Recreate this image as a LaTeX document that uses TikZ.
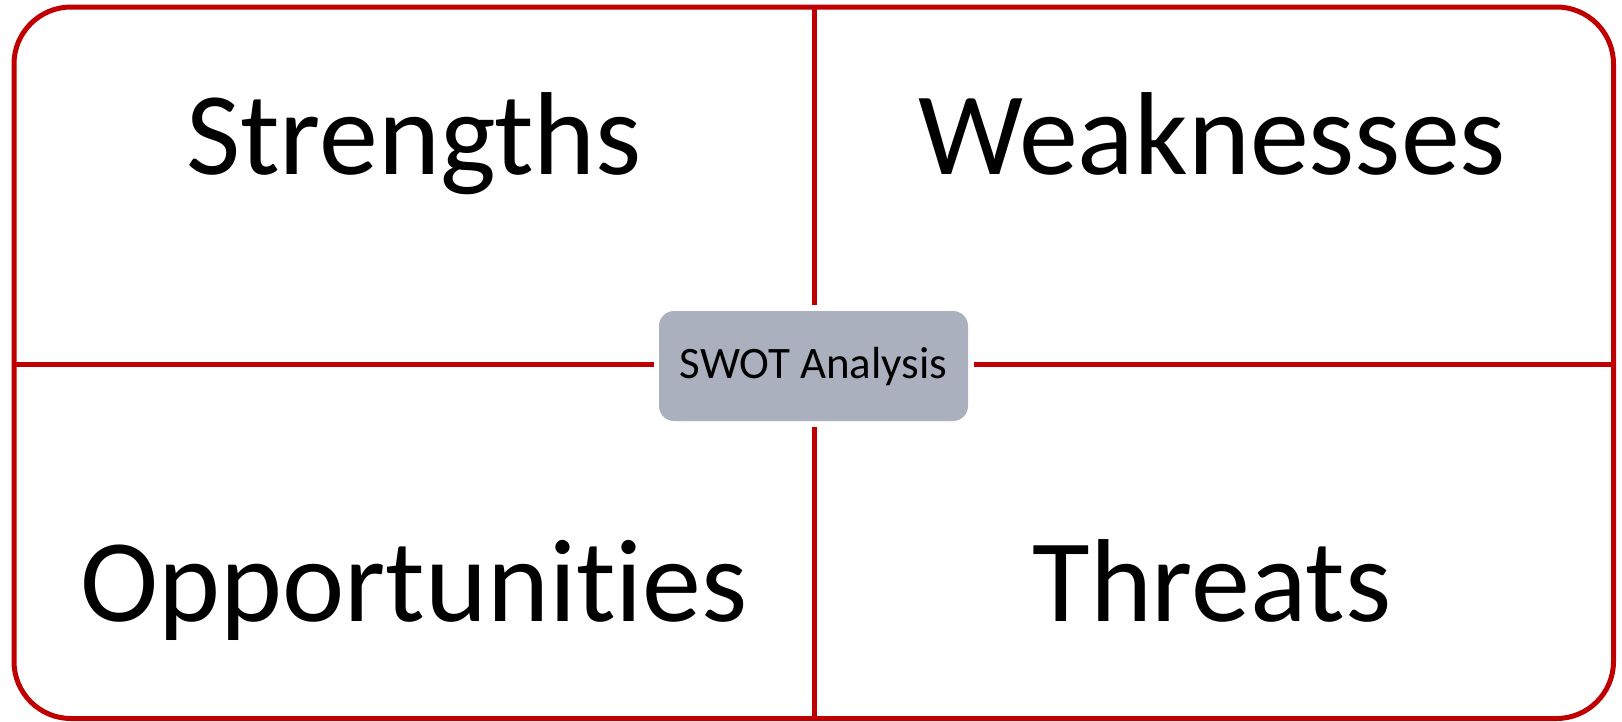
\documentclass[tikz,border=0pt]{standalone}
\usepackage{fontspec}
\setmainfont[Ligatures=NoCommon]{Carlito}
\definecolor{swotred}{HTML}{C00000}
\definecolor{swotgray}{HTML}{ABB0BF}
\begin{document}
\begin{tikzpicture}[x=1pt,y=-1pt,
  frame/.style={draw=swotred, line width=5pt},
  divider/.style={draw=swotred, line width=5pt},
  quadrant/.style={anchor=base, inner sep=0pt, font=\fontsize{118}{130}\selectfont},
  centerbox/.style={fill=swotgray, rounded corners=15pt, minimum width=309pt, minimum height=110pt, inner sep=0pt, font=\fontsize{45}{52}\selectfont}]
\useasboundingbox (0,0) rectangle (1622,721);
% outer frame
\draw[frame, rounded corners=57pt] (14,7) rectangle (1613.5,718.5);
% dividers
\coordinate (top) at (814,7);
\coordinate (bottom) at (814,718.5);
\coordinate (left) at (14,364.5);
\coordinate (right) at (1613.5,364.5);
\coordinate (vtop) at (814,305);
\coordinate (vbot) at (814,427);
\coordinate (hleft) at (654,364.5);
\coordinate (hright) at (974,364.5);
\draw[divider] (top) -- (vtop);
\draw[divider] (vbot) -- (bottom);
\draw[divider] (left) -- (hleft);
\draw[divider] (hright) -- (right);
% centre label
\node[centerbox] (swot) at (813.5,366) {SWOT Analysis};
% quadrant titles
\node[quadrant] (s) at (414,174) {Strengths};
\node[quadrant] (w) at (1212,174) {Weaknesses};
\node[quadrant] (o) at (414,621) {Opportunities};
\node[quadrant] (t) at (1212,621) {Threats};
\end{tikzpicture}
\end{document}
